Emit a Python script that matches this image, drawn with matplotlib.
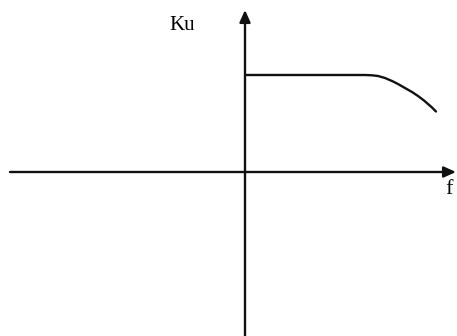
import matplotlib
matplotlib.use("Agg")
import matplotlib.pyplot as plt

# Curve (pixel-like coordinates, y downward)
curve_x = [246, 365, 372, 378, 385, 392, 398, 405, 412, 418, 424, 428, 432, 436]
curve_y = [75, 75, 75.3, 76, 78, 81, 84, 88, 92, 96, 100.5, 104, 107.5, 111.5]

# Axes geometry (pixel-like coordinates)
h_axis = (10, 456, 172)   # x start, x end, y
v_axis = (245, 336, 10)   # x, y bottom, y top
y_label = "Ku"
x_label = "f"

fig = plt.figure(figsize=(4.57, 3.36), dpi=100)
ax = fig.add_axes([0, 0, 1, 1])
ax.set_xlim(0, 457)
ax.set_ylim(336, 0)
ax.axis("off")

arrow = dict(arrowstyle="-|>,head_length=0.6,head_width=0.27", lw=1.7,
             color="#111111", mutation_scale=12, shrinkA=0, shrinkB=0)
ax.annotate("", xy=(h_axis[1], h_axis[2]), xytext=(h_axis[0], h_axis[2]), arrowprops=arrow)
ax.annotate("", xy=(v_axis[0], v_axis[2]), xytext=(v_axis[0], v_axis[1]), arrowprops=arrow)

ax.plot(curve_x, curve_y, color="#111111", lw=1.7, solid_capstyle="round",
        solid_joinstyle="round")

ax.text(182, 25, y_label, fontsize=15, family="Liberation Serif", ha="center", va="center")
ax.text(449, 190, x_label, fontsize=16, family="Liberation Serif", ha="center", va="center")

fig.savefig("out.png", dpi=100)
